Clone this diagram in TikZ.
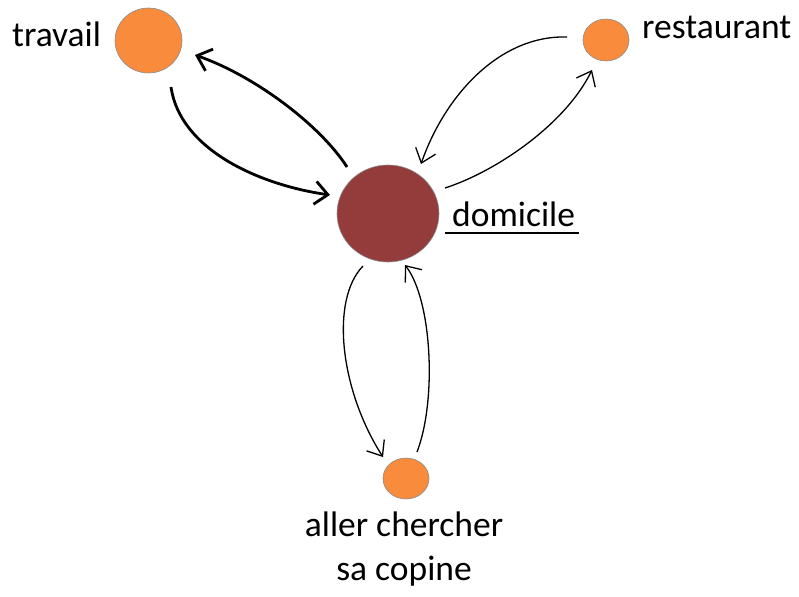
\documentclass[tikz,border=0pt]{standalone}
\usepackage{fontspec}
\setmainfont{Carlito}
\usetikzlibrary{arrows.meta,shapes.geometric}
\definecolor{orng}{HTML}{F98B3C}
\definecolor{dred}{HTML}{943B3B}
\begin{document}
\begin{tikzpicture}[x=1pt,y=-1pt,
  spot/.style={shape=ellipse, draw=black!45, line width=0.6pt, inner sep=0pt},
  lbl/.style={inner sep=0pt, font=\fontsize{35.5}{42}\selectfont},
  thickarrow/.style={line width=2.8pt, -{Straight Barb[length=13pt,width=23pt]}},
  thinarrow/.style={line width=1.3pt, -{Straight Barb[length=13pt,width=21pt]}}]
\useasboundingbox (0,0) rectangle (799,596);
% nodes
\node[spot, fill=orng, minimum width=67pt, minimum height=65pt] (trav) at (148.5,40.5) {};
\node[spot, fill=orng, minimum width=46pt, minimum height=42pt] (rest) at (606,40) {};
\node[spot, fill=dred, minimum width=102pt, minimum height=97pt] (dom) at (388,213.5) {};
\node[spot, fill=orng, minimum width=46pt, minimum height=41pt] (cop) at (406,478.5) {};
% labels
\node[lbl, anchor=base west] (travlab) at (12,46.7) {travail};
\node[lbl, anchor=base west] (restlab) at (642,38.3) {restaurant};
\node[lbl, anchor=base west] (domlab) at (452,226) {domicile};
\node[lbl, anchor=base] (coplab1) at (404,536.7) {aller chercher};
\node[lbl, anchor=base] (coplab2) at (404,580) {sa copine};
\coordinate (ulA) at (445,233);
\coordinate (ulB) at (579,233);
\draw[line width=1.8pt] (ulA) -- (ulB);
% connector ends
\coordinate (d1) at (347,167);
\coordinate (t1) at (195,55);
\coordinate (t2) at (171,87);
\coordinate (d2) at (330,195);
\coordinate (r1) at (567,37);
\coordinate (d3) at (421,164);
\coordinate (d4) at (445,188);
\coordinate (r2) at (592,70);
\coordinate (d5) at (363,266);
\coordinate (c1) at (383,457);
\coordinate (c2) at (417,452);
\coordinate (d6) at (405,265);
% connectors
\draw[thickarrow] (d1) .. controls (320,125) and (255,76) .. (t1);
\draw[thickarrow] (t2) .. controls (180,150) and (260,185) .. (d2);
\draw[thinarrow] (r1) .. controls (500,35) and (445,95) .. (d3);
\draw[thinarrow] (d4) .. controls (495,172) and (565,125) .. (r2);
\draw[thinarrow] (d5) .. controls (330,300) and (340,390) .. (c1);
\draw[thinarrow] (c2) .. controls (437,400) and (432,300) .. (d6);
\end{tikzpicture}
\end{document}
